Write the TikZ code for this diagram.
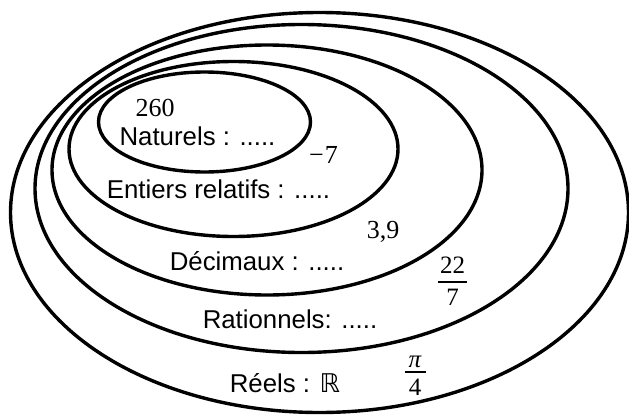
\documentclass[tikz,border=0pt]{standalone}
\usepackage{fontspec}
\setmainfont{Liberation Serif}
\setsansfont{Liberation Sans}
\newfontfamily\dsfont{DejaVu Sans}

\tikzset{
  setline/.style={line width=3.4pt, draw=black},
  setlabel/.style={inner sep=0pt, anchor=base, font=\sffamily\fontsize{25.8}{30}\selectfont},
  numlabel/.style={inner sep=0pt, anchor=base, font=\rmfamily\fontsize{26}{30}\selectfont},
  fraclabel/.style={inner sep=0pt, anchor=base, font=\rmfamily\fontsize{25}{28}\selectfont},
  fracbar/.style={line width=1.4pt},
}

\begin{document}
\begin{tikzpicture}[x=1pt, y=-1pt]
  \useasboundingbox (0,0) rectangle (629,415);

  % nested sets N, Z, D, Q, R
  \draw[setline] (319.5,212.5) ellipse [x radius=309pt, y radius=200pt];
  \draw[setline] (301.5,188.5) ellipse [x radius=266.5pt, y radius=164pt];
  \draw[setline] (267,170) ellipse [x radius=215pt, y radius=125pt];
  \draw[setline] (233.5,149) ellipse [x radius=164.5pt, y radius=87.5pt];
  \draw[setline] (204.5,122) ellipse [x radius=106pt, y radius=50pt];

  % set names
  \node[setlabel] (nat) at (197.5,145) {Naturels : .....};
  \node[setlabel] (ent) at (218.5,198) {Entiers relatifs : .....};
  \node[setlabel] (dec) at (257,270) {Décimaux : .....};
  \node[setlabel] (rat) at (290,328) {Rationnels: .....};
  \node[setlabel] (ree) at (285,392.5) {Réels : {\dsfont ℝ}};

  % sample numbers
  \node[numlabel] (n260) at (155,116) {260};
  \node[numlabel] (nm7) at (323.5,163.5) {−\kern1pt7};
  \node[numlabel] (n39) at (383,238.5) {3,9};

  % 22/7
  \node[fraclabel] (q22) at (452.5,273.5) {22};
  \node[fraclabel] (q7) at (452.5,305) {7};
  \coordinate (qbarL) at (438,281.8);
  \coordinate (qbarR) at (467,281.8);
  \draw[fracbar] (qbarL) -- (qbarR);

  % pi/4
  \node[fraclabel] (rpi) at (415,367.5) {\itshape π};
  \node[fraclabel] (r4) at (415,395) {4};
  \coordinate (rbarL) at (404.5,371.8);
  \coordinate (rbarR) at (425.5,371.8);
  \draw[fracbar] (rbarL) -- (rbarR);
\end{tikzpicture}
\end{document}
